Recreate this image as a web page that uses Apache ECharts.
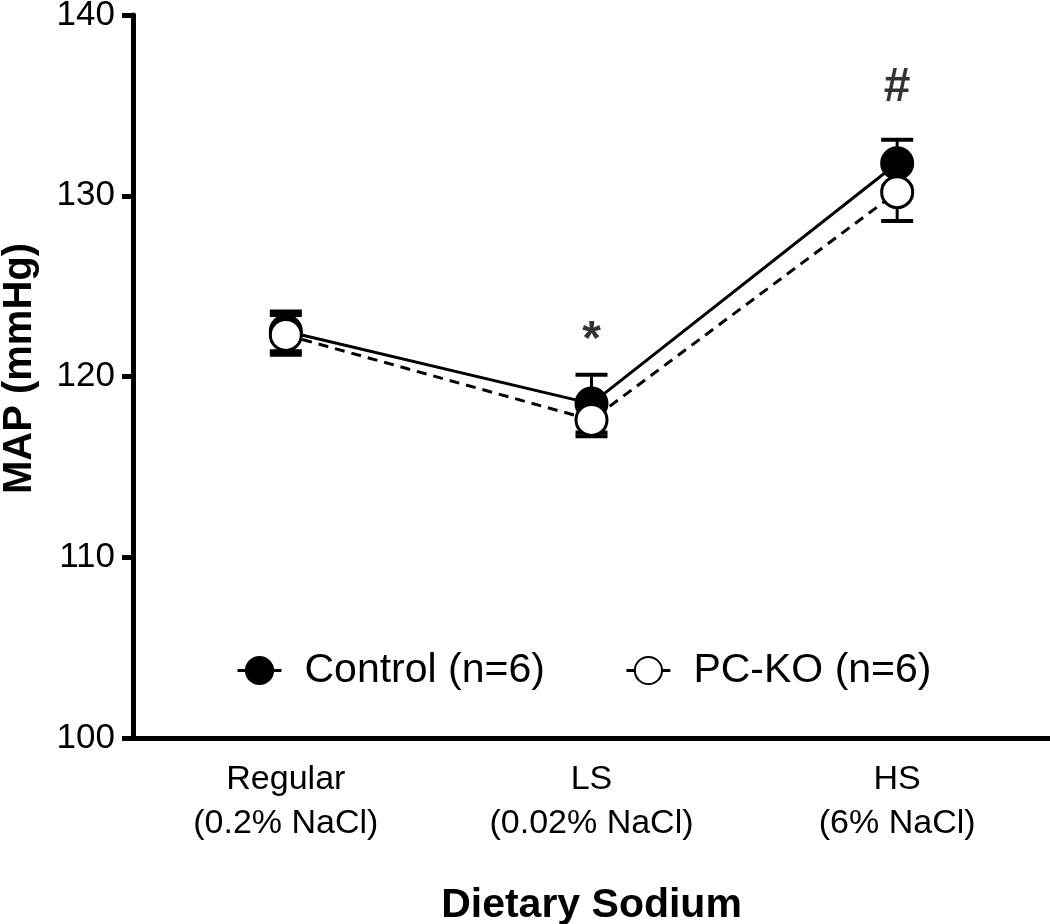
<!DOCTYPE html>
<html>
<head>
<meta charset="utf-8">
<script src="https://cdn.jsdelivr.net/npm/echarts@6/dist/echarts.min.js"></script>
<style>html,body{margin:0;padding:0;background:#fff}#c{width:1050px;height:924px}</style>
</head>
<body>
<div id="c"></div>
<script>
const categories = ['Regular\n(0.2% NaCl)', 'LS\n(0.02% NaCl)', 'HS\n(6% NaCl)'];
const controlMean = [122.5, 118.5, 131.8];
const controlSem = [1.1, 1.6, 1.3];
const pckoMean = [122.3, 117.6, 130.2];
const pckoSem = [1.1, 0.9, 1.6];
const annotIndex = [1, 2];
const annotText = ['*', '#'];
const annotValue = [122.0, 136.0];
const yTicks = { min: 100, max: 140, interval: 10 };

const FONT = '"Liberation Sans", Arial, Helvetica, sans-serif';

function errData(mean, sem) {
  return mean.map((m, i) => [i, m - sem[i], m + sem[i]]);
}
function errRender(params, api) {
  const x = api.value(0);
  const pLo = api.coord([x, api.value(1)]);
  const pHi = api.coord([x, api.value(2)]);
  const hw = 16;
  const stem = { stroke: '#000', lineWidth: 3 };
  const cap = { stroke: '#000', lineWidth: 4 };
  return {
    type: 'group',
    children: [
      { type: 'line', shape: { x1: pHi[0], y1: pHi[1], x2: pLo[0], y2: pLo[1] }, style: stem },
      { type: 'line', shape: { x1: pHi[0] - hw, y1: pHi[1], x2: pHi[0] + hw, y2: pHi[1] }, style: cap },
      { type: 'line', shape: { x1: pLo[0] - hw, y1: pLo[1], x2: pLo[0] + hw, y2: pLo[1] }, style: cap }
    ]
  };
}

const chart = echarts.init(document.getElementById('c'), null, { renderer: 'canvas' });
chart.setOption({
  animation: false,
  backgroundColor: '#fff',
  textStyle: { fontFamily: FONT, color: '#000' },
  grid: { left: 133, right: 0, top: 15, bottom: 186, containLabel: false, outerBoundsMode: 'none' },
  legend: {
    left: 231,
    top: 645,
    itemWidth: 44,
    itemHeight: 34,
    itemGap: 80,
    lineStyle: { type: 'solid', width: 3, color: '#000' },
    textStyle: { fontSize: 41, fontFamily: FONT, color: '#000', padding: [0, 0, 0, 18] },
    data: ['Control (n=6)', 'PC-KO (n=6)']
  },
  xAxis: {
    type: 'category',
    data: categories,
    boundaryGap: true,
    axisLine: { lineStyle: { color: '#000', width: 5 } },
    axisTick: { alignWithLabel: true, length: 10, lineStyle: { color: '#000', width: 5 } },
    axisLabel: { fontSize: 34, lineHeight: 44, margin: 20, color: '#000', fontFamily: FONT },
    name: 'Dietary Sodium',
    nameLocation: 'middle',
    nameGap: 147,
    nameTextStyle: { fontSize: 41, fontWeight: 'bold', color: '#000', fontFamily: FONT },
    splitLine: { show: false }
  },
  yAxis: {
    type: 'value',
    min: yTicks.min,
    max: yTicks.max,
    interval: yTicks.interval,
    axisLine: { show: true, lineStyle: { color: '#000', width: 5 } },
    axisTick: { show: true, length: 11, lineStyle: { color: '#000', width: 5 } },
    axisLabel: { fontSize: 35, margin: 18, color: '#000', fontFamily: FONT },
    splitLine: { show: false },
    name: 'MAP (mmHg)',
    nameLocation: 'middle',
    nameRotate: 90,
    nameGap: 93,
    nameTextStyle: { fontSize: 40, fontWeight: 'bold', color: '#000', fontFamily: FONT, padding: [0, 0, 0, 16] }
  },
  series: [
    {
      type: 'custom', name: 'errControl', renderItem: errRender,
      data: errData(controlMean, controlSem), z: 1, silent: true
    },
    {
      type: 'custom', name: 'errPcko', renderItem: errRender,
      data: errData(pckoMean, pckoSem), z: 1, silent: true
    },
    {
      type: 'line', name: 'Control (n=6)', data: controlMean, z: 3,
      symbol: 'circle', symbolSize: 31, showSymbol: true,
      lineStyle: { color: '#000', width: 3, type: 'solid' },
      itemStyle: { color: '#000', borderColor: '#000', borderWidth: 3 }
    },
    {
      type: 'line', name: 'PC-KO (n=6)', data: pckoMean, z: 4,
      symbol: 'circle', symbolSize: 31, showSymbol: true,
      lineStyle: { color: '#000', width: 3, type: [10, 7] },
      itemStyle: { color: '#fff', borderColor: '#000', borderWidth: 3 }
    },
    {
      type: 'scatter', name: 'annot', z: 5, silent: true,
      symbolSize: 1, itemStyle: { color: 'rgba(0,0,0,0)' },
      data: annotIndex.map((c, i) => ({ value: [c, annotValue[i]], label: { formatter: annotText[i] } })),
      label: { show: true, position: 'inside', fontSize: 48, fontWeight: 'bold', color: '#000', fontFamily: FONT }
    }
  ]
});
</script>
</body>
</html>
